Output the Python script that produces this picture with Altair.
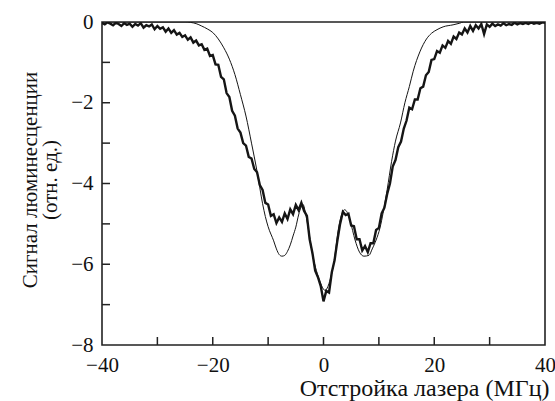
import altair as alt
import pandas as pd

exp_start = -40.0
exp_step = 0.5
signal_exp = [
    -0.02, -0.06, -0.01, -0.04, -0.08, -0.02, -0.05, -0.10, -0.03, -0.07,
    -0.04, -0.12, -0.05, -0.09, -0.03, -0.14, -0.08, -0.11, -0.06, -0.18,
    -0.10, -0.17, -0.13, -0.24, -0.16, -0.27, -0.20, -0.31, -0.27, -0.37,
    -0.33, -0.44, -0.38, -0.51, -0.46, -0.58, -0.55, -0.69, -0.66, -0.84,
    -0.82, -1.05, -1.06, -1.36, -1.42, -1.76, -1.86, -2.20, -2.32, -2.64,
    -2.74, -3.00, -3.06, -3.34, -3.38, -3.64, -3.72, -4.04, -4.16, -4.48,
    -4.52, -4.80, -4.76, -4.98, -4.84, -4.95, -4.74, -4.88, -4.64, -4.76,
    -4.53, -4.66, -4.48, -4.68, -4.80, -5.38, -5.72, -6.16, -6.32, -6.54,
    -6.92, -6.66, -6.70, -6.20, -5.90, -5.42, -5.00, -4.70, -4.78, -4.75,
    -5.04, -5.06, -5.38, -5.38, -5.66, -5.55, -5.70, -5.48, -5.48, -5.15,
    -5.10, -4.74, -4.60, -4.26, -4.00, -3.58, -3.42, -3.10, -2.96, -2.64,
    -2.44, -2.12, -2.16, -1.92, -1.92, -1.64, -1.60, -1.32, -1.24, -0.94,
    -0.92, -0.72, -0.76, -0.58, -0.64, -0.47, -0.54, -0.36, -0.42, -0.26,
    -0.31, -0.16, -0.26, -0.10, -0.22, -0.08, -0.16, -0.05, -0.30, -0.06,
    -0.12, -0.04, -0.10, -0.06, -0.09, -0.03, -0.08, -0.05, -0.07, -0.02,
    -0.06, -0.03, -0.05, -0.02, -0.05, -0.01, -0.04, -0.02, -0.04, -0.01,
    -0.02,
]
freq_exp = [round(exp_start + exp_step * i, 2) for i in range(len(signal_exp))]

# Theoretical curve
freq_theory = [-40, -25, -24, -23, -22, -21, -20, -19, -18, -17,
               -16, -15, -14, -13, -12, -11, -10.5, -10, -9, -8.5,
               -8, -7.5, -7, -6.5, -6, -5.5, -5, -4.5, -4, -3.7,
               -3.3, -2.8, -2.3, -1.9, -1.3, -0.65, 0, 0.3, 0.8, 1.2,
               2.0, 2.6, 3.2, 3.8, 4.3, 4.8, 5.7, 6.5, 7.3, 8.2,
               8.8, 9.5, 10.2, 10.8, 11.5, 12.3, 13.0, 13.9, 14.7, 15.5,
               16.2, 17.4, 18.6, 19.5, 20.5, 21.6, 23.4, 24.6, 25.3, 40]
signal_theory = [0, 0, -0.01, -0.04, -0.10, -0.17, -0.26, -0.42, -0.64, -0.92,
                 -1.30, -1.80, -2.33, -3.00, -3.70, -4.50, -4.82, -5.07, -5.42, -5.62,
                 -5.76, -5.80, -5.78, -5.68, -5.52, -5.30, -5.08, -4.78, -4.57, -4.52,
                 -4.70, -5.07, -5.50, -5.81, -6.15, -6.42, -6.62, -6.65, -6.55, -6.38,
                 -5.85, -5.20, -4.80, -4.65, -4.72, -4.92, -5.40, -5.70, -5.80, -5.78,
                 -5.62, -5.40, -5.10, -4.70, -4.15, -3.45, -2.95, -2.50, -2.00, -1.60,
                 -1.22, -0.74, -0.42, -0.28, -0.19, -0.12, -0.07, -0.03, 0, 0]

# Axis ticks / labels
x_label_values = [-40, -20, 0, 20, 40]
y_label_values = [0, -2, -4, -6, -8]
x_minor_ticks = [-30, -20, -10, 0, 10, 20, 30]
y_minor_ticks = [-7, -6, -5, -4, -3, -2, -1]

x_title = "Отстройка лазера (МГц)"
y_title = ["Сигнал люминесценции", "(отн. ед.)"]

W, H = 443, 323
FONT = "Liberation Serif, Times New Roman, serif"

exp_df = pd.DataFrame({"f": freq_exp, "s": signal_exp})
th_df = pd.DataFrame({"f": freq_theory, "s": signal_theory})
xt_df = pd.DataFrame({"f": x_minor_ticks})
yt_df = pd.DataFrame({"s": y_minor_ticks})

xscale = alt.Scale(domain=[-40, 40], nice=False, zero=False)
yscale = alt.Scale(domain=[-8, 0], nice=False, zero=False)

xaxis = alt.Axis(values=x_label_values, ticks=False, domain=False, grid=False,
                 labelFont=FONT, labelFontSize=21, labelColor="#111",
                 labelPadding=9, labelFlush=False,
                 title=x_title, titleFont=FONT, titleFontSize=24,
                 titleFontWeight="normal", titleColor="#111",
                 titleAlign="right", titleAnchor="end", titleX=447, titleY=50,
                 titleBaseline="alphabetic")
yaxis = alt.Axis(values=y_label_values, ticks=False, domain=False, grid=False,
                 labelFont=FONT, labelFontSize=21, labelColor="#111",
                 labelPadding=9, labelFlush=False,
                 title=y_title, titleFont=FONT, titleFontSize=21,
                 titleFontWeight="normal", titleColor="#111",
                 titleX=-72, titleY=H / 2 - 4, titleAngle=270,
                 titleBaseline="middle", titleAlign="center", titleLineHeight=20)

exp_line = alt.Chart(exp_df).mark_line(color="#151515", strokeWidth=2.4, clip=True).encode(
    x=alt.X("f:Q", scale=xscale, axis=xaxis),
    y=alt.Y("s:Q", scale=yscale, axis=yaxis),
)
th_line = alt.Chart(th_df).mark_line(color="#151515", strokeWidth=1.0,
                                     interpolate="monotone", clip=True).encode(
    x=alt.X("f:Q", scale=xscale),
    y=alt.Y("s:Q", scale=yscale),
)
x_ticks = alt.Chart(xt_df).mark_rule(color="#222", strokeWidth=1.5).encode(
    x=alt.X("f:Q", scale=xscale),
    y=alt.value(H), y2=alt.value(H - 8),
)
y_ticks = alt.Chart(yt_df).mark_rule(color="#222", strokeWidth=1.5).encode(
    y=alt.Y("s:Q", scale=yscale),
    x=alt.value(0), x2=alt.value(8),
)

chart = alt.layer(exp_line, th_line, x_ticks, y_ticks).properties(
    width=W, height=H,
    autosize=alt.AutoSizeParams(type="none"),
    padding={"left": 102, "top": 22, "right": 10, "bottom": 56},
    background="white",
).configure_view(stroke="#222", strokeWidth=1.6)

chart.save("out.html", embed_options={"renderer": "svg", "actions": False})
